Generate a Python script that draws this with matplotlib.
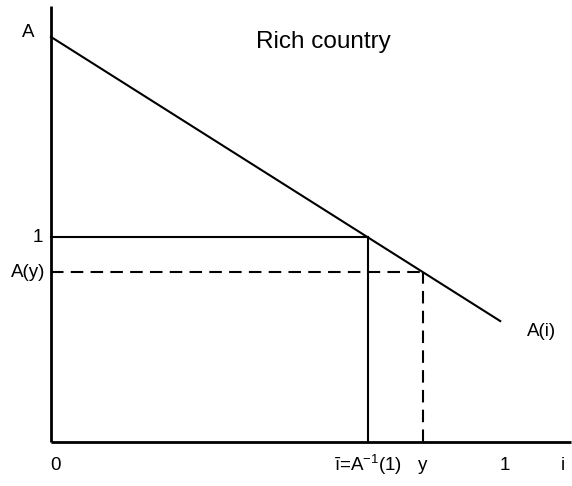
import matplotlib
matplotlib.use("Agg")
import matplotlib.pyplot as plt

plt.rcParams['font.family'] = ['Liberation Sans', 'DejaVu Sans']
plt.rcParams['mathtext.fontset'] = 'custom'
plt.rcParams['mathtext.rm'] = 'Liberation Sans'
plt.rcParams['mathtext.it'] = 'Liberation Sans'

# Data (in chart units: x axis 0..1 for i, y axis 0..1 for A)
curve_i = [0.0, 0.983]
curve_A = [1.976, 0.59]
i_bar = 0.694
y_val = 0.814
A_of_y = 0.829
x_tick_labels = ["0", "ī=A$^{-1}$(1)", "y", "1", "i"]
x_tick_pos = [0.009, 0.694, 0.814, 0.994, 1.121]
y_tick_labels = ["A", "1", "A(y)"]
y_tick_pos = [1.98, 1.0, 0.829]

W, H = 572, 486
fig = plt.figure(figsize=(W / 100, H / 100), dpi=100)
ax = fig.add_axes([0, 0, 1, 1])
ax.set_axis_off()
# pixel mapping: x=0 at px 51, x=1 at px 508; y=0 at px 442, y=1 at px 237
xs, ys = 457.0, 205.0
ax.set_xlim(-51 / xs, (W - 51) / xs)
ax.set_ylim((442 - H) / ys, 442 / ys)

# axes
ax.plot([0, 0], [0, (442 - 6) / ys], color='black', lw=2.0, solid_capstyle='butt')
ax.plot([0, (W - 1 - 51) / xs], [0, 0], color='black', lw=2.0, solid_capstyle='butt')

# A(i) curve
ax.plot(curve_i, curve_A, color='black', lw=1.5)

# solid guide at A=1
ax.plot([0, i_bar], [1, 1], color='black', lw=1.5)
ax.plot([i_bar, i_bar], [0, 1], color='black', lw=1.5)

# dashed guide at y
ax.plot([0, y_val], [A_of_y, A_of_y], color='black', lw=1.5, dashes=(6, 3.5))
ax.plot([y_val, y_val], [0, A_of_y], color='black', lw=1.5, dashes=(6, 3.5))

fs = 13.5
# y labels
ax.text(-23 / xs, y_tick_pos[0] + 4 / ys, y_tick_labels[0], ha='center', va='center', fontsize=fs)
ax.text(-8 / xs, y_tick_pos[1], y_tick_labels[1], ha='right', va='center', fontsize=fs)
ax.text(-6 / xs, y_tick_pos[2], y_tick_labels[2], ha='right', va='center', fontsize=fs)

# x labels
for lab, pos in zip(x_tick_labels, x_tick_pos):
    ax.text(pos, -23 / ys, lab, ha='center', va='center', fontsize=fs)

# curve label
ax.text(0.1 + 0.99 - 0.1 + 0.0 + (542 - 51) / xs - 0.99, 0.538, "A(i)", ha='center', va='center', fontsize=fs)

# title
ax.text((323 - 51) / xs, (442 - 42) / ys, "Rich country", ha='center', va='center', fontsize=17.5)

fig.savefig("out.png", dpi=100)
